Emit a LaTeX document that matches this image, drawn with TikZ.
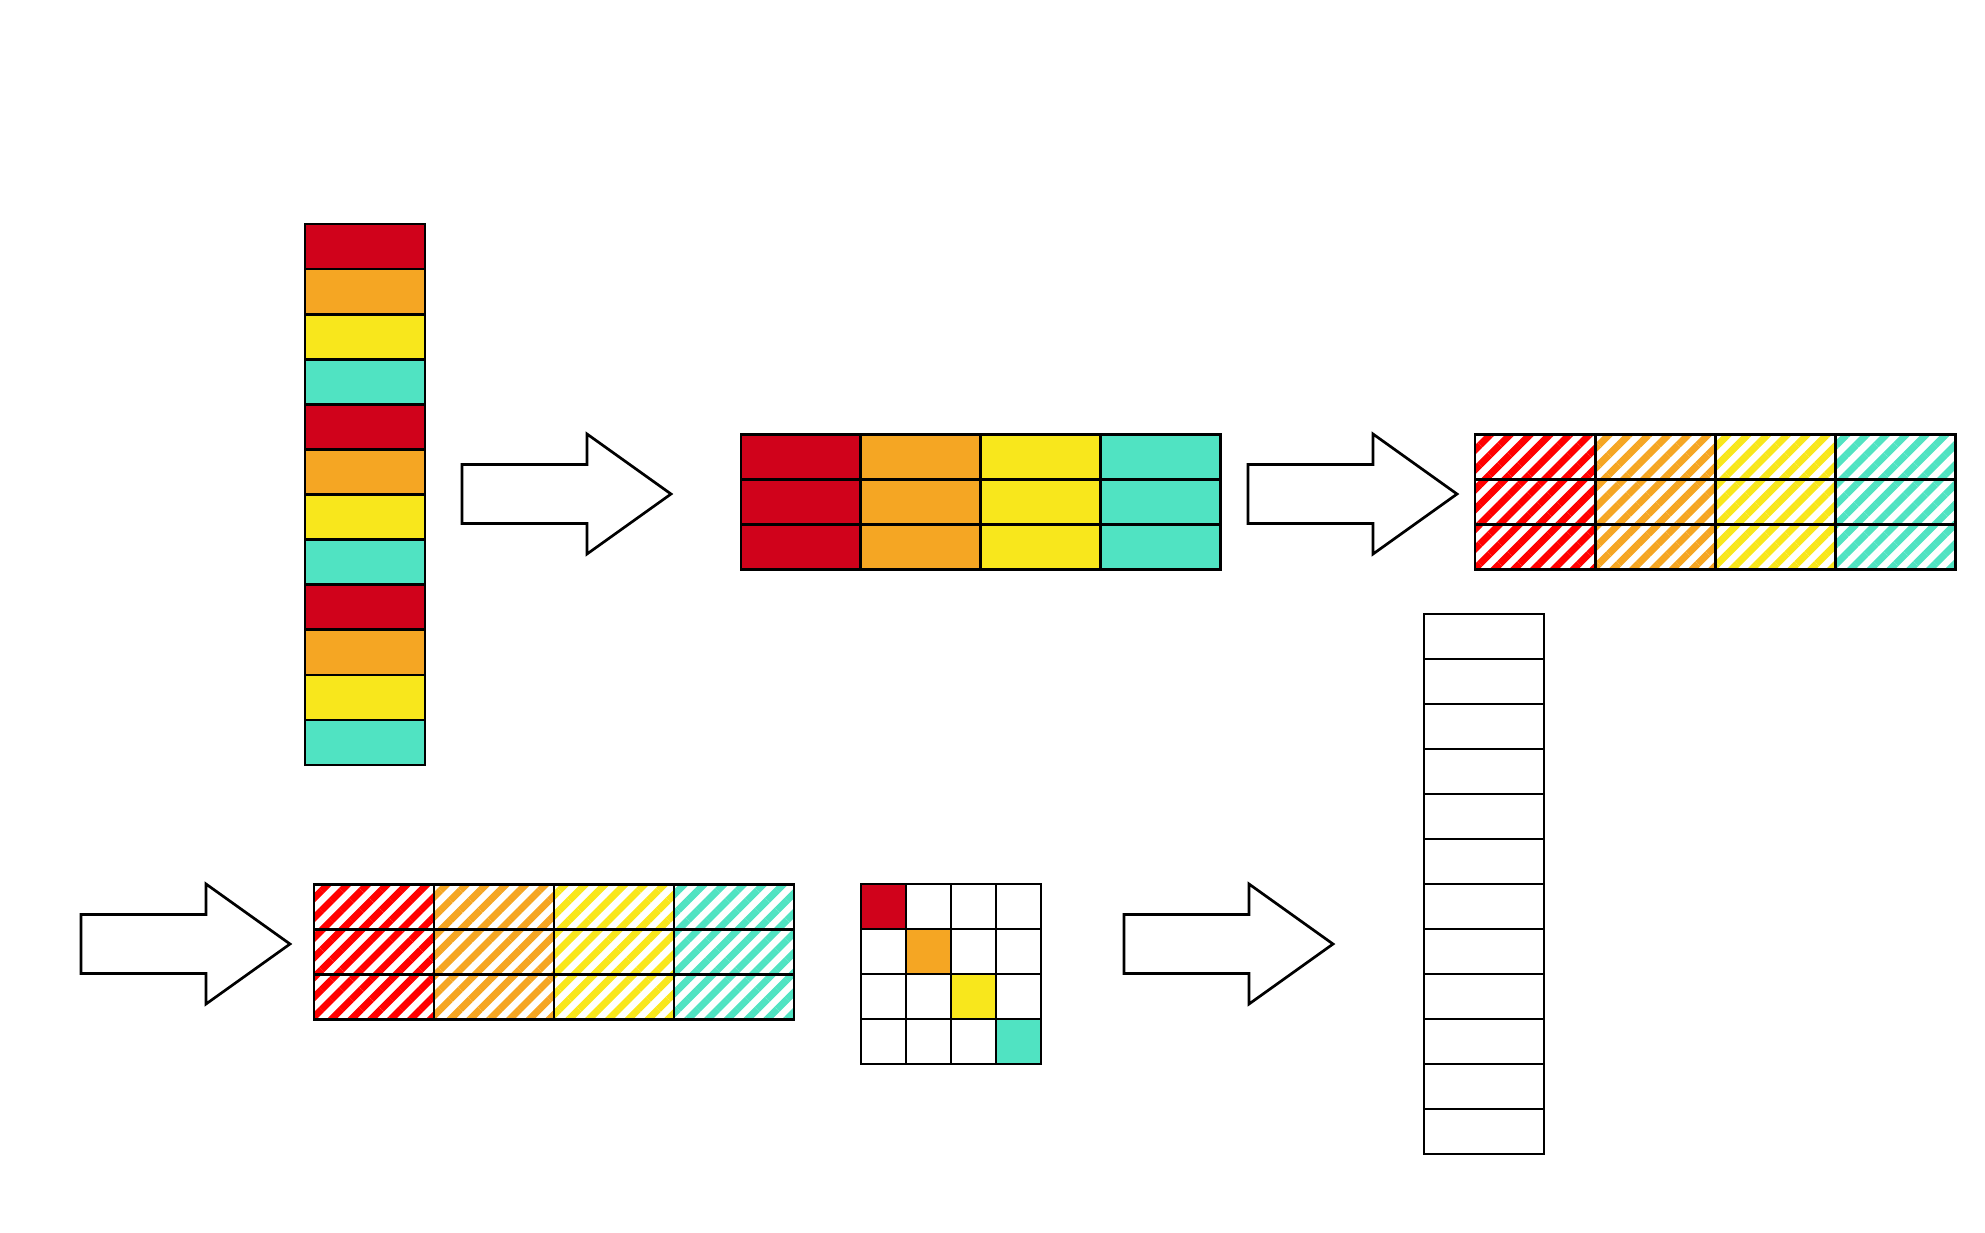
\documentclass[tikz,border=0pt]{standalone}
\usetikzlibrary{patterns.meta}
\definecolor{cellred}{HTML}{D0021B}
\definecolor{cellorange}{HTML}{F5A623}
\definecolor{cellyellow}{HTML}{F8E71C}
\definecolor{cellteal}{HTML}{50E3C2}
\definecolor{hatchred}{HTML}{FF0000}
\tikzset{
  cell/.style={draw=black,line width=1.35pt,inner sep=0pt,outer sep=0pt,minimum width=60pt,minimum height=22.5pt},
  sqcell/.style={cell,minimum width=22.5pt},
  hatched/.style={cell,pattern={Lines[angle=45,distance=7pt,line width=3.5pt]},pattern color=#1},
  blockarrow/.style={draw=black,fill=white,line width=1.35pt,line join=miter}
}
\newcommand{\bigarrow}[3]{% name, left x, centre y
  \coordinate (#1) at (#2,#3);
  \draw[blockarrow] (#1) ++(0,-29.5) -- ++(125,0) -- ++(0,-30.5) -- ++(84,60) -- ++(-84,60) -- ++(0,-30.5) -- ++(-125,0) -- cycle;}

\begin{document}
\begin{tikzpicture}[x=0.5pt,y=-0.5pt]
\useasboundingbox (0,0) rectangle (1985,1232);

% input column
\foreach \c [count=\i] in {cellred,cellorange,cellyellow,cellteal,cellred,cellorange,cellyellow,cellteal,cellred,cellorange,cellyellow,cellteal}
  \node[cell,fill=\c] (in\i) at (365,{224+22.5+(\i-1)*45.1}) {};

\bigarrow{arrA}{462}{494}

% reshaped 3x4
\foreach \c [count=\j] in {cellred,cellorange,cellyellow,cellteal}
  \foreach \r in {1,2,3}
    \node[cell,fill=\c] (m-\r-\j) at ({741+60+(\j-1)*119.8},{434+22.7+(\r-1)*45.3}) {};

\bigarrow{arrB}{1248}{494}

% hatched 3x4 (top)
\foreach \c [count=\j] in {hatchred,cellorange,cellyellow,cellteal}
  \foreach \r in {1,2,3}
    \node[hatched=\c] (h-\r-\j) at ({1475+60+(\j-1)*120.2},{434+22.7+(\r-1)*45.3}) {};

% output column
\foreach \i in {1,...,12}
  \node[cell,fill=white] (out\i) at (1484,{614+22.5+(\i-1)*45}) {};

\bigarrow{arrC}{81}{944}

% hatched 3x4 (bottom)
\foreach \c [count=\j] in {hatchred,cellorange,cellyellow,cellteal}
  \foreach \r in {1,2,3}
    \node[hatched=\c] (g-\r-\j) at ({314+60+(\j-1)*120},{884+22.7+(\r-1)*45.3}) {};

% diagonal 4x4
\foreach \r in {1,...,4}
  \foreach \j in {1,...,4}
    \node[sqcell,fill=white] (d-\r-\j) at ({861+22.5+(\j-1)*45},{884+22.5+(\r-1)*45}) {};
\foreach \c [count=\k] in {cellred,cellorange,cellyellow,cellteal}
  \node[sqcell,fill=\c] at (d-\k-\k) {};

\bigarrow{arrD}{1124}{944}
\end{tikzpicture}
\end{document}
